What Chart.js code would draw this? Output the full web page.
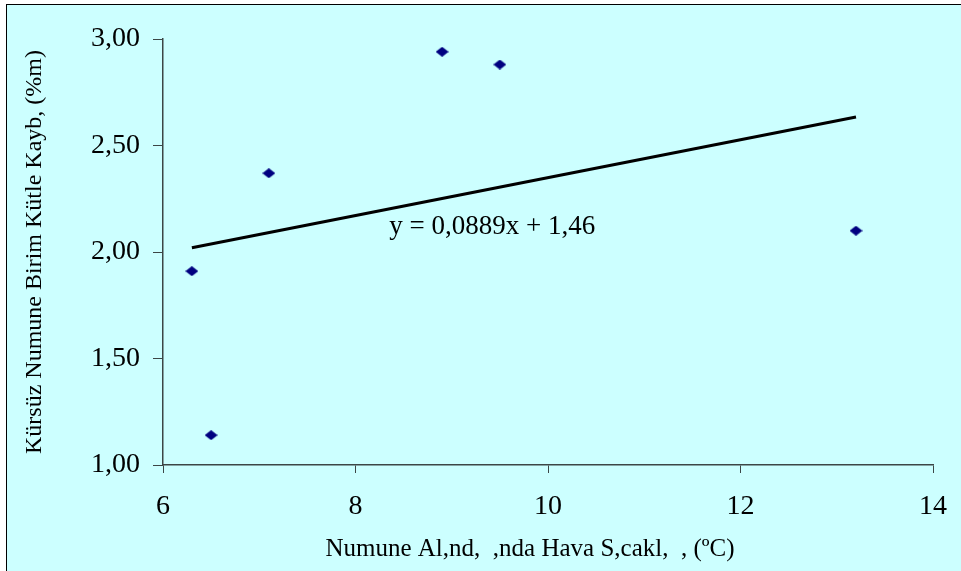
<!DOCTYPE html>
<html>
<head>
<meta charset="utf-8">
<script src="https://cdn.jsdelivr.net/npm/chart.js@4.4.1/dist/chart.umd.min.js"></script>
<style>
  body { margin: 0; background: #ffffff; }
  canvas { display: block; }
</style>
</head>
<body>
<canvas id="myChart" width="961" height="571"></canvas>
<script>
// measured samples: air temperature (x) and unit mass loss (y)
const sicaklik = [6.3, 6.5, 7.1, 8.9, 9.5, 13.2];
const kutleKaybi = [1.91, 1.14, 2.37, 2.94, 2.88, 2.10];

// linear trend shown on the chart
const egim = 0.0889;
const sabit = 1.46;
const denklem = 'y = 0,0889x + 1,46';

const xTicks = [6, 8, 10, 12, 14];
const yTicks = [1.00, 1.50, 2.00, 2.50, 3.00];

const xBaslik = 'Numune Al,nd,  ,nda Hava S,cakl,  , (ºC)';
const yBaslik = 'Kürsüz Numune Birim Kütle Kayb, (%m)';

const FONT = '"Liberation Serif", "Times New Roman", serif';
const AXIS_COLOR = '#3c4646';

// diamond marker, a bit wider than tall
function diamond(w, h, color) {
  const c = document.createElement('canvas');
  c.width = w; c.height = h;
  const g = c.getContext('2d');
  g.fillStyle = color;
  g.beginPath();
  g.moveTo(w / 2, 0);
  g.lineTo(w, h / 2);
  g.lineTo(w / 2, h);
  g.lineTo(0, h / 2);
  g.closePath();
  g.fill();
  return c;
}

const points = sicaklik.map((x, i) => ({ x: x, y: kutleKaybi[i] }));
const xMin = Math.min(...sicaklik);
const xMax = Math.max(...sicaklik);
const trend = [xMin, xMax].map(x => ({ x: x, y: egim * x + sabit }));

// background + frame
const frame = {
  id: 'frame',
  beforeDraw(chart) {
    const ctx = chart.ctx;
    ctx.save();
    ctx.fillStyle = '#ffffff';
    ctx.fillRect(0, 0, chart.width, chart.height);
    ctx.fillStyle = '#ccffff';
    ctx.fillRect(6, 4, chart.width, chart.height);
    ctx.strokeStyle = '#000000';
    ctx.lineWidth = 1;
    ctx.strokeRect(6.5, 4.5, chart.width + 10, chart.height + 10);
    ctx.restore();
  }
};

// trend equation + x axis title (title sits a little left of the plot centre)
const labels = {
  id: 'labels',
  afterDatasetsDraw(chart) {
    const ctx = chart.ctx;
    const x = chart.scales.x.getPixelForValue(8.35);
    const y = chart.scales.y.getPixelForValue(2.12);
    ctx.save();
    ctx.fillStyle = '#000000';
    ctx.font = '27px ' + FONT;
    ctx.textAlign = 'left';
    ctx.textBaseline = 'middle';
    ctx.fillText(denklem, x, y);

    ctx.font = '25px ' + FONT;
    ctx.textAlign = 'center';
    ctx.fillText(xBaslik, 530, 549);
    ctx.restore();
  }
};

const ctx = document.getElementById('myChart').getContext('2d');
const myChart = new Chart(ctx, {
  type: 'scatter',
  data: {
    datasets: [{
      label: 'Kütle Kaybı',
      data: points,
      pointStyle: diamond(13, 10, '#000080'),
      pointRadius: 6,
      pointHoverRadius: 6
    }, {
      type: 'line',
      label: 'Trend',
      data: trend,
      borderColor: '#000000',
      borderWidth: 3,
      pointRadius: 0,
      fill: false
    }]
  },
  options: {
    responsive: false,
    animation: false,
    events: [],
    layout: {
      padding: { left: 0, top: 39, right: 28, bottom: 0 }
    },
    scales: {
      x: {
        type: 'linear',
        min: 6,
        max: 14,
        afterFit: (s) => { s.height = 106; s.paddingLeft = 0; s.paddingRight = 0; },
        afterBuildTicks: (s) => { s.ticks = xTicks.map(v => ({ value: v })); },
        grid: { drawOnChartArea: false, drawTicks: true, tickLength: 8, color: AXIS_COLOR },
        border: { display: true, color: AXIS_COLOR, width: 1.5 },
        ticks: {
          color: '#000000',
          padding: 17,
          maxRotation: 0,
          font: { family: FONT, size: 28 }
        }
      },
      y: {
        type: 'linear',
        min: 1,
        max: 3,
        afterFit: (s) => { s.width = 163; s.paddingTop = 0; s.paddingBottom = 0; },
        afterBuildTicks: (s) => { s.ticks = yTicks.map(v => ({ value: v })); },
        grid: { drawOnChartArea: false, drawTicks: true, tickLength: 10, color: AXIS_COLOR },
        border: { display: true, color: AXIS_COLOR, width: 1.5 },
        ticks: {
          color: '#000000',
          padding: 13,
          font: { family: FONT, size: 28 },
          callback: (v) => v.toFixed(2).replace('.', ',')
        },
        title: {
          display: true,
          text: yBaslik,
          color: '#000000',
          font: { family: FONT, size: 24 },
          padding: { top: 20, bottom: 0 }
        }
      }
    },
    plugins: {
      legend: { display: false },
      tooltip: { enabled: false }
    }
  },
  plugins: [frame, labels]
});
</script>
</body>
</html>
